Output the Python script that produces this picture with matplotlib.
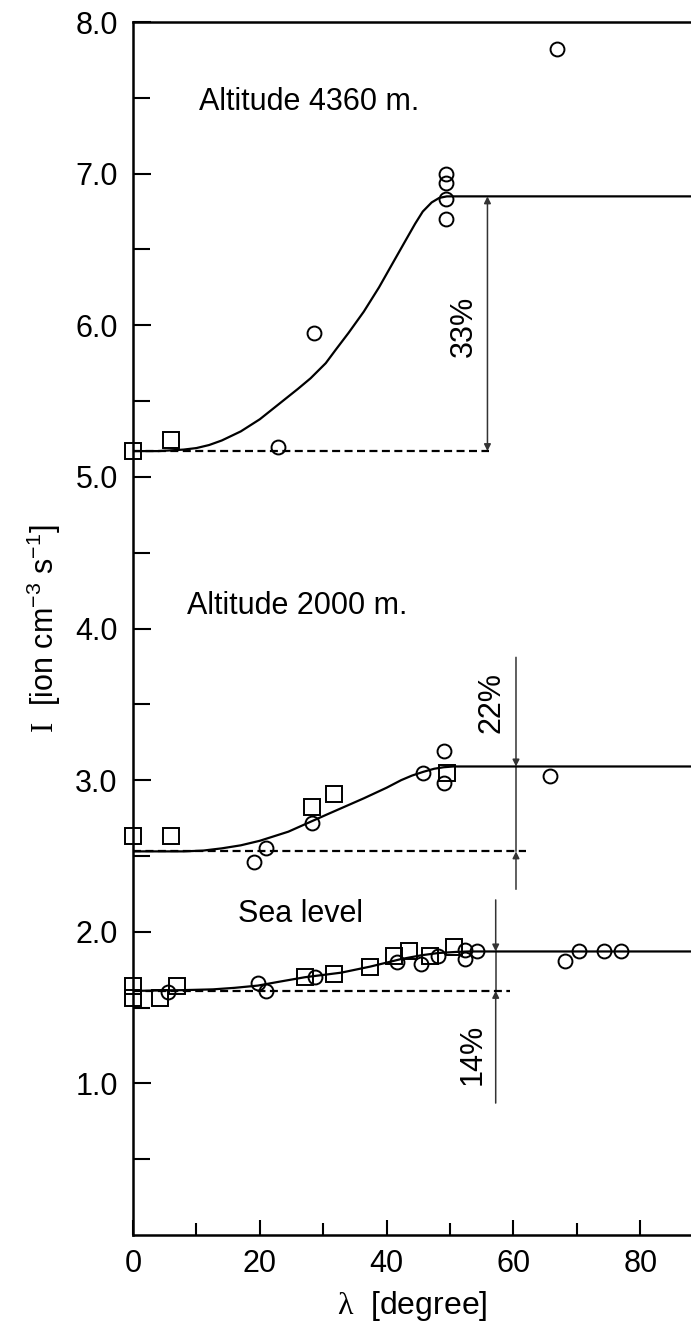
import numpy as np
import matplotlib
matplotlib.use("Agg")
import matplotlib.pyplot as plt

plt.rcParams['font.family'] = ['Liberation Sans', 'DejaVu Sans']
plt.rcParams['mathtext.fontset'] = 'custom'
plt.rcParams['mathtext.rm'] = 'Liberation Serif'
plt.rcParams['mathtext.sf'] = 'Liberation Sans'

# Altitude 4360 m
top_sq_x = [0, 6.0]
top_sq_y = [5.17, 5.24]
top_ci_x = [22.9, 28.5, 49.3, 49.3, 49.3, 49.3, 66.9]
top_ci_y = [5.20, 5.95, 7.00, 6.94, 6.83, 6.70, 7.82]
top_fit_x = [0, 4, 8, 10, 12, 14, 17, 20, 23, 26, 28, 30.4, 32, 34, 36.4, 38.8, 41.1, 43, 44.5, 45.7, 47.1, 48.3, 49.5, 88]
top_fit_y = [5.17, 5.17, 5.18, 5.19, 5.21, 5.24, 5.30, 5.38, 5.48, 5.58, 5.65, 5.75, 5.84, 5.95, 6.09, 6.25, 6.42, 6.56, 6.67, 6.75, 6.81, 6.84, 6.85, 6.85]

# Altitude 2000 m
mid_sq_x = [0, 6.0, 28.2, 31.7, 49.5]
mid_sq_y = [2.63, 2.63, 2.82, 2.91, 3.05]
mid_ci_x = [19.1, 20.9, 28.3, 45.8, 49.0, 49.0, 65.7]
mid_ci_y = [2.46, 2.55, 2.72, 3.05, 3.19, 2.98, 3.03]
mid_fit_x = [0, 8, 11, 14, 17, 20, 24.5, 30.4, 36.4, 40, 42.3, 44, 45.8, 47.5, 49, 50.5, 88]
mid_fit_y = [2.53, 2.53, 2.535, 2.55, 2.57, 2.60, 2.66, 2.77, 2.88, 2.95, 3.00, 3.03, 3.055, 3.075, 3.085, 3.09, 3.09]

# Sea level
sea_sq_x = [0, 0, 4.3, 6.9, 27.1, 31.7, 37.4, 41.1, 43.5, 46.8, 50.6]
sea_sq_y = [1.64, 1.56, 1.56, 1.64, 1.70, 1.72, 1.77, 1.84, 1.87, 1.84, 1.90]
sea_ci_x = [5.5, 19.7, 20.9, 28.7, 41.7, 45.4, 48.1, 52.3, 52.3, 54.2, 68.1, 70.3, 74.3, 76.9]
sea_ci_y = [1.60, 1.66, 1.61, 1.70, 1.80, 1.79, 1.84, 1.88, 1.82, 1.87, 1.81, 1.87, 1.87, 1.87]
sea_fit_x = [0, 8, 12.6, 16, 19.7, 23, 27.1, 32.8, 37.4, 42.3, 45.5, 48.2, 51, 53.0, 88]
sea_fit_y = [1.61, 1.615, 1.62, 1.63, 1.645, 1.67, 1.70, 1.73, 1.77, 1.82, 1.845, 1.86, 1.867, 1.87, 1.87]

# baselines (level, end of dashed line)
base_levels = [5.17, 2.53, 1.61]
base_ends = [56.2, 61.9, 59.5]

# percentage markers
pct_labels = ['33%', '22%', '14%']
pct_x = [55.9, 60.4, 57.2]
pct_low = [5.17, 2.53, 1.61]
pct_high = [6.85, 3.09, 1.87]
pct_span = [None, (2.28, 3.81), (0.87, 2.21)]
pct_text_pos = [(52.1, 5.99), (56.5, 3.51), (53.5, 1.19)]

titles = ['Altitude 4360 m.', 'Altitude 2000 m.', 'Sea level']
title_pos = [(10.4, 7.47), (8.5, 4.15), (16.5, 2.12)]

fig = plt.figure(figsize=(6.91, 13.3), dpi=100)
ax = fig.add_axes([133 / 691, 1 - 1235 / 1330, 1 - 133 / 691, (1235 - 22) / 1330])

fs = 22
sq = dict(marker='s', ms=12, mfc='none', mec='black', mew=1.4, ls='none', clip_on=False, zorder=4)
ci = dict(marker='o', ms=10, mfc='none', mec='black', mew=1.4, ls='none', clip_on=False, zorder=4)

for fx, fy in [(top_fit_x, top_fit_y), (mid_fit_x, mid_fit_y), (sea_fit_x, sea_fit_y)]:
    ax.plot(fx, fy, color='black', lw=1.6, zorder=3)

for sx, sy, cx, cy in [(top_sq_x, top_sq_y, top_ci_x, top_ci_y),
                       (mid_sq_x, mid_sq_y, mid_ci_x, mid_ci_y),
                       (sea_sq_x, sea_sq_y, sea_ci_x, sea_ci_y)]:
    ax.plot(sx, sy, **sq)
    ax.plot(cx, cy, **ci)

for lev, end in zip(base_levels, base_ends):
    ax.plot([0, end], [lev, lev], color='black', lw=1.6, dashes=(3.6, 2.0), zorder=3)

arrow = dict(arrowstyle='-|>', color='#333333', lw=1.1, mutation_scale=10, shrinkA=0, shrinkB=0)
for i in range(3):
    x = pct_x[i]
    if pct_span[i] is None:
        ax.annotate('', xy=(x, pct_high[i]), xytext=(x, pct_low[i]),
                    arrowprops=dict(arrow, arrowstyle='<|-|>'))
    else:
        lo, hi = pct_span[i]
        ax.annotate('', xy=(x, pct_high[i]), xytext=(x, hi), arrowprops=arrow)
        ax.annotate('', xy=(x, pct_low[i]), xytext=(x, lo), arrowprops=arrow)
        ax.plot([x, x], [pct_low[i], pct_high[i]], color='#333333', lw=1.1)
    tx, ty = pct_text_pos[i]
    ax.text(tx, ty, pct_labels[i], rotation=90, ha='center', va='center', fontsize=fs)

for t, (tx, ty) in zip(titles, title_pos):
    ax.text(tx, ty, t, ha='left', va='center', fontsize=fs)

ax.set_xlim(0, 88)
ax.set_ylim(0, 8)
ax.set_xticks([0, 20, 40, 60, 80])
ax.set_xticks([10, 30, 50, 70], minor=True)
ax.set_yticks(np.arange(1, 8.01, 1.0))
ax.set_yticks(np.arange(0.5, 8, 1.0), minor=True)
ax.set_yticklabels(['%.1f' % v for v in np.arange(1, 8.01, 1.0)])
ax.tick_params(axis='both', which='both', direction='in', width=1.5, labelsize=fs)
ax.tick_params(axis='y', which='major', length=13, pad=11)
ax.tick_params(axis='y', which='minor', length=12)
ax.tick_params(axis='x', which='major', length=11, pad=10)
ax.tick_params(axis='x', which='minor', length=9)
for s in ['left', 'bottom', 'top']:
    ax.spines[s].set_linewidth(1.8)
ax.spines['right'].set_visible(False)

ax.set_xlabel(r'$\mathrm{\lambda}$  [degree]', fontsize=fs + 1, labelpad=7)
ax.set_ylabel(r'$\mathrm{I}$  [ion cm$^{\mathsf{-3}}$ s$^{\mathsf{-1}}$]', fontsize=fs, labelpad=9)

fig.savefig('out.png', dpi=100)
